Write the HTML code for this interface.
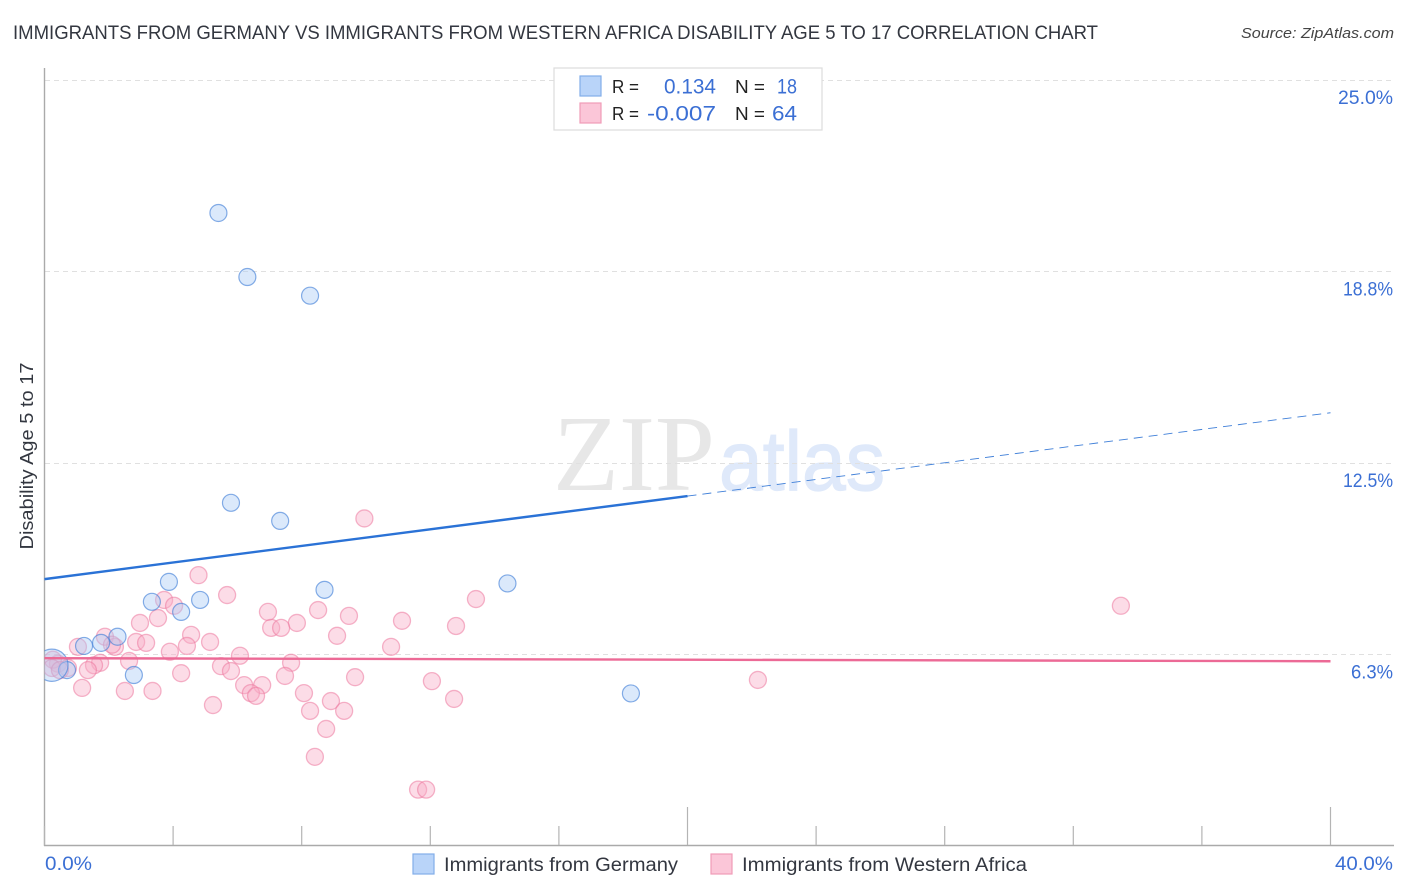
<!DOCTYPE html>
<html lang="en">
<head>
<meta charset="utf-8">
<title>Immigrants from Germany vs Immigrants from Western Africa Disability Age 5 to 17 Correlation Chart</title>
<style>
html,body{margin:0;padding:0;background:#fff;width:1406px;height:892px;overflow:hidden}
svg{display:block}
text{font-family:"Liberation Sans",sans-serif}
</style>
</head>
<body>
<svg id="chart" width="1406" height="892" viewBox="0 0 1406 892" xmlns="http://www.w3.org/2000/svg">
  <defs>
    <clipPath id="plot-clip"><rect x="44.5" y="60" width="1350" height="786"/></clipPath>
  </defs>
  <text x="13" y="39" font-size="19" fill="#333740" textLength="1085" lengthAdjust="spacingAndGlyphs">IMMIGRANTS FROM GERMANY VS IMMIGRANTS FROM WESTERN AFRICA DISABILITY AGE 5 TO 17 CORRELATION CHART</text>
  <text x="1241" y="38" font-size="15" font-style="italic" fill="#444" textLength="153" lengthAdjust="spacingAndGlyphs">Source: ZipAtlas.com</text>

  <g>
    <text x="553" y="490" font-size="108" fill="#e7e7e7" style="font-family:'Liberation Serif',serif" textLength="162" lengthAdjust="spacingAndGlyphs">ZIP</text>
    <text x="719" y="490" font-size="84" fill="#dfe9fa" stroke="#dfe9fa" stroke-width="1.2" textLength="166" lengthAdjust="spacingAndGlyphs">atlas</text>
  </g>

  <g id="grid"></g>
  <g id="axes"></g>
  <g id="points" clip-path="url(#plot-clip)"></g>
  <g id="trends"></g>

  <text transform="translate(33,456) rotate(-90)" text-anchor="middle" font-size="18" fill="#333740" textLength="187" lengthAdjust="spacingAndGlyphs">Disability Age 5 to 17</text>

  <g>
    <rect x="554" y="68" width="268" height="62" fill="#fff" stroke="#dcdcdc" stroke-width="1.2"/>
    <rect x="580" y="76" width="21" height="20" fill="#b9d4f9" stroke="#82aee8" stroke-width="1.2"/>
    <rect x="580" y="103" width="21" height="20" fill="#fbc6d8" stroke="#f09cb8" stroke-width="1.2"/>
    <text x="612" y="93" font-size="18" fill="#222" textLength="27" lengthAdjust="spacingAndGlyphs">R =</text>
    <text x="664" y="93.500" font-size="21" fill="#3b6fd4" textLength="52" lengthAdjust="spacingAndGlyphs">0.134</text>
    <text x="735" y="93" font-size="18" fill="#222" textLength="30" lengthAdjust="spacingAndGlyphs">N =</text>
    <text x="777" y="93.500" font-size="21" fill="#3b6fd4" textLength="20" lengthAdjust="spacingAndGlyphs">18</text>
    <text x="612" y="120" font-size="18" fill="#222" textLength="27" lengthAdjust="spacingAndGlyphs">R =</text>
    <text x="647" y="120.500" font-size="21" fill="#3b6fd4" textLength="69" lengthAdjust="spacingAndGlyphs">-0.007</text>
    <text x="735" y="120" font-size="18" fill="#222" textLength="30" lengthAdjust="spacingAndGlyphs">N =</text>
    <text x="772" y="120.500" font-size="21" fill="#3b6fd4" textLength="25" lengthAdjust="spacingAndGlyphs">64</text>
  </g>

  <g>
    <g>
      <rect x="413" y="854" width="21" height="20" fill="#b9d4f9" stroke="#82aee8" stroke-width="1.2"/>
      <text x="444" y="871" font-size="19" fill="#333740" textLength="234" lengthAdjust="spacingAndGlyphs">Immigrants from Germany</text>
    </g>
    <g>
      <rect x="711" y="854" width="21" height="20" fill="#fbc6d8" stroke="#f09cb8" stroke-width="1.2"/>
      <text x="742" y="871" font-size="19" fill="#333740" textLength="285" lengthAdjust="spacingAndGlyphs">Immigrants from Western Africa</text>
    </g>
  </g>
</svg>
<script>
const germanyX = [5.41,6.31,8.26,5.80,7.33,3.87,3.34,4.84,4.25,8.71,14.40,18.24,2.27,1.76,1.23,2.78,0.70,0.23];
const germanyY = [20.66,18.57,17.96,11.20,10.61,8.62,7.97,8.03,7.64,8.36,8.57,4.98,6.83,6.63,6.53,5.58,5.74,5.90];
const germanyWeight = [1,1,1,1,1,1,1,1,1,1,1,1,1,1,1,1,1,3.6];

const africaX = [9.95,4.79,5.68,3.72,4.03,6.95,8.51,9.47,13.42,11.12,12.80,7.85,7.05,7.36,2.97,3.53,4.56,5.15,9.10,10.78,1.88,1.04,2.19,2.85,3.16,3.90,4.43,6.08,7.67,5.49,5.80,7.48,9.66,12.05,4.25,2.63,1.73,1.54,1.35,0.42,0.26,0.73,1.17,2.50,3.36,5.24,6.21,6.77,6.42,6.58,8.07,8.91,8.26,9.32,12.74,8.76,8.41,11.62,11.87,22.19,33.48,0.23,0.48,2.10];
const africaY = [10.69,8.84,8.19,8.03,7.84,7.64,7.70,7.51,8.06,7.35,7.18,7.28,7.12,7.12,7.28,7.44,6.89,6.66,6.86,6.50,6.83,6.50,6.50,6.66,6.63,6.34,6.53,6.21,5.98,5.87,5.71,5.55,5.51,5.38,5.64,6.04,5.98,5.90,5.74,5.95,6.08,5.81,5.16,5.06,5.06,4.60,5.25,5.25,4.99,4.90,4.99,4.73,4.41,4.41,4.80,3.82,2.91,1.84,1.84,5.42,7.84,5.81,5.74,6.57];

const germanyTrendX = [0,20,40];
const germanyTrendY = [8.71,11.42,14.14];
const africaTrendX = [0,40];
const africaTrendY = [6.13,6.03];

const yTicks = [25,18.75,12.5,6.25];
const yTickLabels = ['25.0%','18.8%','12.5%','6.3%'];
const xTicks = [0,4,8,12,16,20,24,28,32,36,40];
const xMajorTicks = [20,40];
const xEndLabels = ['0.0%','40.0%'];

const NS = 'http://www.w3.org/2000/svg';
const xScale = v => 44.5 + v * 32.15;
const yScale = v => 654.5 - (v - 6.25) * 30.64;
const labelLength = s => s.length === 4 ? 42 : (s[0] === '1' ? 50 : 55);

function make(tag, parent, attrs) {
  const el = document.createElementNS(NS, tag);
  for (const k in attrs) el.setAttribute(k, attrs[k]);
  parent.appendChild(el);
  return el;
}

const gridG = document.getElementById('grid');
const axesG = document.getElementById('axes');
const pointsG = document.getElementById('points');
const trendsG = document.getElementById('trends');

yTicks.forEach((t, i) => {
  const gy = Math.floor(yScale(t)) + 0.5;
  const line = make('line', gridG, {x1: 45, x2: 1394, y1: gy, y2: gy, stroke: '#e0e0e0', 'stroke-width': 1, 'stroke-dasharray': '5 4'});
  
  
  const w = labelLength(yTickLabels[i]);
  const label = make('text', axesG, {x: 1393 - w, y: yScale(t) + 24, 'font-size': 19, fill: '#3b6fd4', textLength: w, lengthAdjust: 'spacingAndGlyphs'});
  label.textContent = yTickLabels[i];
  
  
});

const yAxis = make('line', axesG, {x1: 44.5, x2: 44.5, y1: 68, y2: 846, stroke: '#aaaaaa', 'stroke-width': 1.4});


const xAxis = make('line', axesG, {x1: 44, x2: 1394, y1: 845.5, y2: 845.5, stroke: '#aaaaaa', 'stroke-width': 1.4});



xTicks.forEach(t => {
  const top = xMajorTicks.includes(t) ? 807 : 826;
  const tick = make('line', axesG, {x1: xScale(t), x2: xScale(t), y1: top, y2: 845, stroke: '#b4b4b4', 'stroke-width': 1.2});
  
  
});

const xLabelLeft = make('text', axesG, {x: 45, y: 870, 'font-size': 19, fill: '#3b6fd4', textLength: 47, lengthAdjust: 'spacingAndGlyphs'});
xLabelLeft.textContent = xEndLabels[0];


const xLabelRight = make('text', axesG, {x: 1335, y: 870, 'font-size': 19, fill: '#3b6fd4', textLength: 58, lengthAdjust: 'spacingAndGlyphs'});
xLabelRight.textContent = xEndLabels[1];



africaX.forEach((x, i) => {
  const c = make('circle', pointsG, {cx: xScale(x), cy: yScale(africaY[i]), r: 8.5, fill: 'rgba(248,172,198,0.42)', stroke: 'rgba(236,120,158,0.55)', 'stroke-width': 1.3});
  
  
});

germanyX.forEach((x, i) => {
  const c = make('circle', pointsG, {cx: xScale(x), cy: yScale(germanyY[i]), r: 8.5 * Math.sqrt(germanyWeight[i]), fill: 'rgba(170,202,246,0.42)', stroke: 'rgba(62,124,214,0.62)', 'stroke-width': 1.2});
  
  
});

const gSolid = make('line', trendsG, {x1: xScale(germanyTrendX[0]), y1: yScale(germanyTrendY[0]), x2: xScale(germanyTrendX[1]), y2: yScale(germanyTrendY[1]), stroke: '#2a72d6', 'stroke-width': 2.4});


const gDash = make('line', trendsG, {x1: xScale(germanyTrendX[1]), y1: yScale(germanyTrendY[1]), x2: xScale(germanyTrendX[2]), y2: yScale(germanyTrendY[2]), stroke: '#3f7fd8', 'stroke-width': 0.9, 'stroke-dasharray': '9 6'});


const aLine = make('line', trendsG, {x1: xScale(africaTrendX[0]), y1: yScale(africaTrendY[0]), x2: xScale(africaTrendX[1]), y2: yScale(africaTrendY[1]), stroke: '#ec6a96', 'stroke-width': 2.4});


</script>
</body>
</html>
